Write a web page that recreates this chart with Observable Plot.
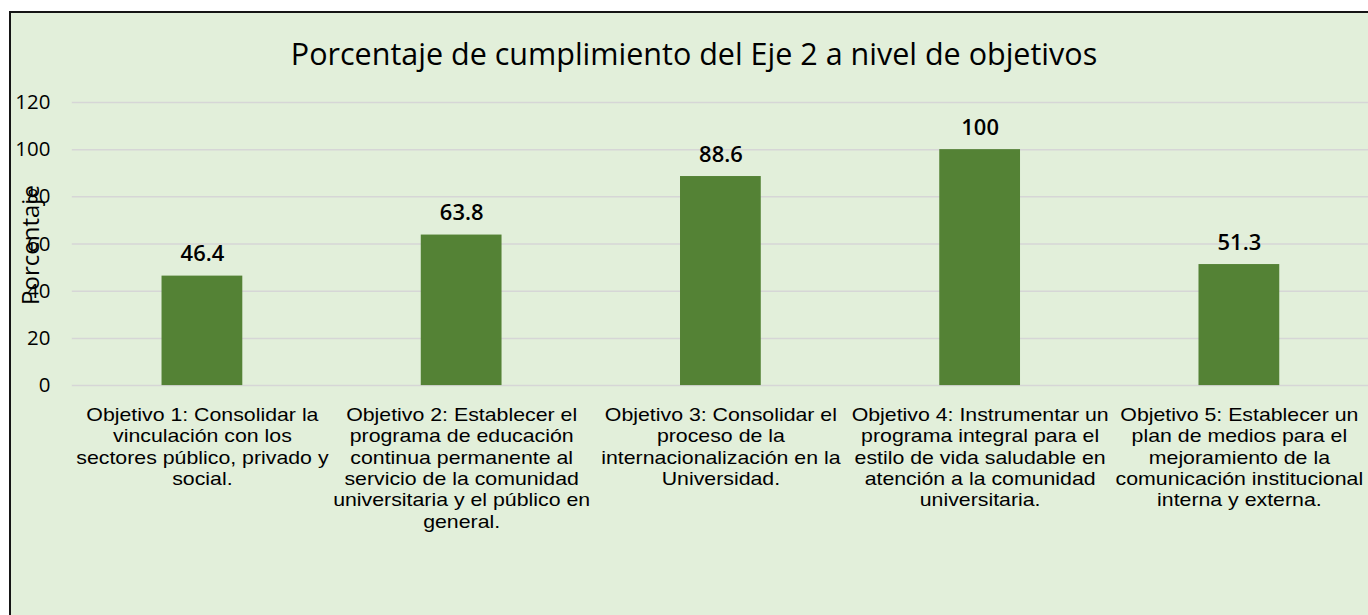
<!DOCTYPE html>
<html>
<head>
<meta charset="utf-8">
<script src="https://cdn.jsdelivr.net/npm/d3@7"></script>
<script src="https://cdn.jsdelivr.net/npm/@observablehq/plot@0.6"></script>
<style>
  html, body { margin: 0; padding: 0; width: 1368px; height: 615px; overflow: hidden; background: #ffffff; font-family: "Open Sans", sans-serif; }
  #frame { position: absolute; left: 9px; top: 11px; width: 1370px; height: 620px; background: #E2EFDA; border-left: 2px solid #151515; border-top: 2px solid #151515; }
  #title { position: absolute; left: 20px; top: 32px; width: 1348px; text-align: center; font-size: 30.5px; color: #000; line-height: 42px; }
  #ylabel { position: absolute; left: 29px; top: 245px; transform: translate(-50%, -50%) rotate(-90deg); font-size: 24px; color: #000; white-space: nowrap; z-index: 2; }
  #chart { position: absolute; left: 0; top: 80px; }
</style>
</head>
<body>
<div id="frame"></div>
<div id="title">Porcentaje de cumplimiento del Eje 2 a nivel de objetivos</div>
<div id="chart"></div>
<div id="ylabel">Porcentaje</div>
<script>
const labels = [
  "Objetivo 1: Consolidar la\nvinculación con los\nsectores público, privado y\nsocial.",
  "Objetivo 2: Establecer el\nprograma de educación\ncontinua permanente al\nservicio de la comunidad\nuniversitaria y el público en\ngeneral.",
  "Objetivo 3: Consolidar el\nproceso de la\ninternacionalización en la\nUniversidad.",
  "Objetivo 4: Instrumentar un\nprograma integral para el\nestilo de vida saludable en\natención a la comunidad\nuniversitaria.",
  "Objetivo 5: Establecer un\nplan de medios para el\nmejoramiento de la\ncomunicación institucional\ninterna y externa."
];
const values = [46.4, 63.8, 88.6, 100, 51.3];
const yTicks = [0, 20, 40, 60, 80, 100, 120];

const data = labels.map((label, i) => ({label, value: values[i]}));

const chart = Plot.plot({
  width: 1372,
  height: 535,
  marginTop: 22,
  marginBottom: 229,
  marginLeft: 72,
  marginRight: 0,
  style: {background: "transparent", fontFamily: "Open Sans, sans-serif", color: "#000", overflow: "visible"},
  x: {domain: labels, paddingInner: 0.69, paddingOuter: 0.345, label: null},
  y: {domain: [0, 120], label: null},
  marks: [
    Plot.gridY(yTicks, {stroke: "#d6d6d6", strokeOpacity: 1, strokeWidth: 1.5}),
    Plot.barY(data, {x: "label", y: "value", fill: "#548235"}),
    Plot.text(data, {x: "label", y: "value", text: d => String(d.value), dy: -22, fontSize: 22, fontWeight: 600, fill: "#000"}),
    Plot.axisY(yTicks, {tickSize: 0, tickPadding: 22, fontSize: 20.5, label: null, fill: "#000"}),
    Plot.axisX({tickSize: 0, tickPadding: 20, fontSize: 19, lineHeight: 1.13, fontFamily: "Liberation Sans, Arial, sans-serif", label: null, fill: "#000", textOverflow: null})
  ]
});
document.getElementById("chart").appendChild(chart);

// match the original's category label width
const tickTexts = d3.select(chart).selectAll('g[aria-label="x-axis tick label"] text').nodes();
function lineWidth(textNode, lineIndex) {
  const spans = textNode.querySelectorAll("tspan");
  return spans.length > lineIndex ? spans[lineIndex].getComputedTextLength() : textNode.getComputedTextLength();
}
const sx = 253 / lineWidth(tickTexts[0], 2);
tickTexts.forEach(node => {
  const t = node.getAttribute("transform") || "";
  node.setAttribute("transform", t + ` scale(${sx},1)`);
});
</script>
</body>
</html>
